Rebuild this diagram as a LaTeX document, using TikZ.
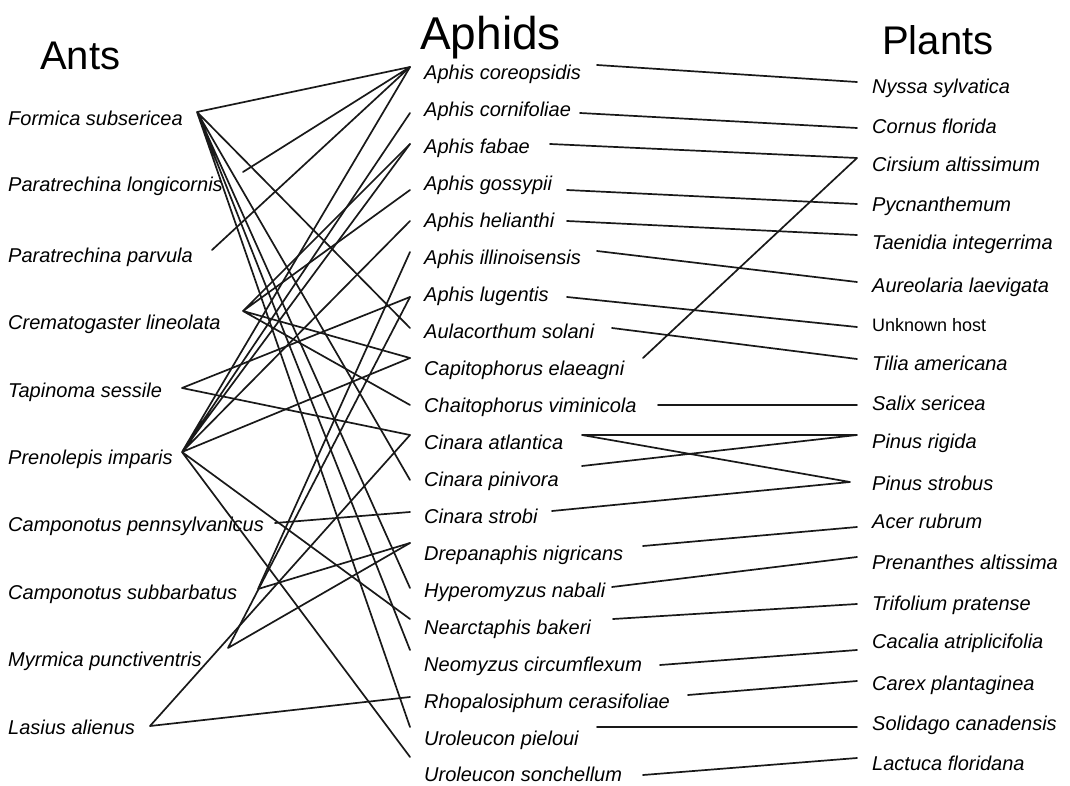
\documentclass[tikz,border=0pt]{standalone}
\usepackage{fontspec}
\setmainfont{Liberation Sans}
\begin{document}
\begin{tikzpicture}[x=1pt,y=-1pt,
  lk/.style={line width=1.7pt, black!90, line cap=round},
  sp/.style={anchor=base west, inner sep=0pt, font=\fontsize{20}{24}\selectfont\itshape},
  uk/.style={anchor=base west, inner sep=0pt, font=\fontsize{18}{21}\selectfont},
  ttl/.style={anchor=base west, inner sep=0pt, font=\fontsize{40}{48}\selectfont}]
\useasboundingbox (0,0) rectangle (1070,786);
% titles
\node[ttl] (tAnts) at (40,70) {Ants};
\node[ttl, font=\fontsize{46}{54}\selectfont] (tAph) at (420,50) {Aphids};
\node[ttl] (tPl) at (882,55) {Plants};
% ants
\node[sp] (n1) at (8,126) {Formica subsericea};
\node[sp] (n2) at (8,192) {Paratrechina longicornis};
\node[sp] (n3) at (8,262) {Paratrechina parvula};
\node[sp] (n4) at (8,329) {Crematogaster lineolata};
\node[sp] (n5) at (8,397) {Tapinoma sessile};
\node[sp] (n6) at (8,464) {Prenolepis imparis};
\node[sp] (n7) at (8,531) {Camponotus pennsylvanicus};
\node[sp] (n8) at (8,599) {Camponotus subbarbatus};
\node[sp] (n9) at (8,666) {Myrmica punctiventris};
\node[sp] (n10) at (8,734) {Lasius alienus};
% aphids
\node[sp] (a1) at (424,79.7) {Aphis coreopsidis};
\node[sp] (a2) at (424,116.7) {Aphis cornifoliae};
\node[sp] (a3) at (424,153.6) {Aphis fabae};
\node[sp] (a4) at (424,190.6) {Aphis gossypii};
\node[sp] (a5) at (424,227.5) {Aphis helianthi};
\node[sp] (a6) at (424,264.5) {Aphis illinoisensis};
\node[sp] (a7) at (424,301.5) {Aphis lugentis};
\node[sp] (a8) at (424,338.4) {Aulacorthum solani};
\node[sp] (a9) at (424,375.4) {Capitophorus elaeagni};
\node[sp] (a10) at (424,412.3) {Chaitophorus viminicola};
\node[sp] (a11) at (424,449.3) {Cinara atlantica};
\node[sp] (a12) at (424,486.3) {Cinara pinivora};
\node[sp] (a13) at (424,523.2) {Cinara strobi};
\node[sp] (a14) at (424,560.2) {Drepanaphis nigricans};
\node[sp] (a15) at (424,597.1) {Hyperomyzus nabali};
\node[sp] (a16) at (424,634.1) {Nearctaphis bakeri};
\node[sp] (a17) at (424,671.1) {Neomyzus circumflexum};
\node[sp] (a18) at (424,708.0) {Rhopalosiphum cerasifoliae};
\node[sp] (a19) at (424,745.0) {Uroleucon pieloui};
\node[sp] (a20) at (424,781.9) {Uroleucon sonchellum};
% plants
\node[sp] (p1) at (872,94) {Nyssa sylvatica};
\node[sp] (p2) at (872,134) {Cornus florida};
\node[sp] (p3) at (872,172) {Cirsium altissimum};
\node[sp] (p4) at (872,212) {Pycnanthemum};
\node[sp] (p5) at (872,250) {Taenidia integerrima};
\node[sp] (p6) at (872,292) {Aureolaria laevigata};
\node[uk] (p7) at (872,331) {Unknown host};
\node[sp] (p8) at (872,370) {Tilia americana};
\node[sp] (p9) at (872,410) {Salix sericea};
\node[sp] (p10) at (872,448) {Pinus rigida};
\node[sp] (p11) at (872,490) {Pinus strobus};
\node[sp] (p12) at (872,528) {Acer rubrum};
\node[sp] (p13) at (872,569) {Prenanthes altissima};
\node[sp] (p14) at (872,610) {Trifolium pratense};
\node[sp] (p15) at (872,648) {Cacalia atriplicifolia};
\node[sp] (p16) at (872,690) {Carex plantaginea};
\node[sp] (p17) at (872,730) {Solidago canadensis};
\node[sp] (p18) at (872,770) {Lactuca floridana};
% ant end points
\coordinate (F) at (197,112);
\coordinate (PL) at (243,172);
\coordinate (PP) at (212,250);
\coordinate (CL) at (243,311);
\coordinate (TS) at (182,388);
\coordinate (PI) at (182,452);
\coordinate (CP) at (275,523);
\coordinate (CS) at (258,589);
\coordinate (MP) at (228,648);
\coordinate (LA) at (150,726);
% aphid left end points
\coordinate (L1) at (410,67);
\coordinate (L2) at (410,113);
\coordinate (L3) at (410,144);
\coordinate (L4) at (410,190);
\coordinate (L5) at (410,221);
\coordinate (L6) at (410,252);
\coordinate (L7) at (410,297);
\coordinate (L8) at (410,328);
\coordinate (L9) at (410,358);
\coordinate (L10) at (410,405);
\coordinate (L11) at (410,435);
\coordinate (L12) at (410,480);
\coordinate (L13) at (410,512);
\coordinate (L14) at (410,543);
\coordinate (L15) at (410,588);
\coordinate (L16) at (410,619);
\coordinate (L17) at (410,650);
\coordinate (L18) at (410,697);
\coordinate (L19) at (410,727);
\coordinate (L20) at (410,757);
% aphid right end points
\coordinate (R1) at (597,65);
\coordinate (R2) at (580,113);
\coordinate (R3) at (550,144);
\coordinate (R4) at (567,190);
\coordinate (R5) at (567,221);
\coordinate (R6) at (597,251);
\coordinate (R7) at (567,297);
\coordinate (R8) at (612,328);
\coordinate (R9) at (643,358);
\coordinate (R10) at (658,405);
\coordinate (R11) at (582,435);
\coordinate (R12) at (582,466);
\coordinate (R13) at (552,511);
\coordinate (R14) at (643,546);
\coordinate (R15) at (612,587);
\coordinate (R16) at (613,619);
\coordinate (R17) at (660,665);
\coordinate (R18) at (688,695);
\coordinate (R19) at (597,727);
\coordinate (R20) at (643,775);
% plant end points
\coordinate (Q1) at (857,82);
\coordinate (Q2) at (857,128);
\coordinate (Q3) at (857,158);
\coordinate (Q4) at (857,204);
\coordinate (Q5) at (857,235);
\coordinate (Q6) at (857,282);
\coordinate (Q7) at (857,327);
\coordinate (Q8) at (857,359);
\coordinate (Q9) at (857,405);
\coordinate (Q10) at (857,435);
\coordinate (Q11) at (850,482);
\coordinate (Q12) at (857,527);
\coordinate (Q13) at (857,557);
\coordinate (Q14) at (857,604);
\coordinate (Q15) at (857,650);
\coordinate (Q16) at (857,681);
\coordinate (Q17) at (857,727);
\coordinate (Q18) at (857,758);
% aphid - plant links
\draw[lk] (R1)--(Q1) (R2)--(Q2) (R3)--(Q3) (R4)--(Q4) (R5)--(Q5) (R6)--(Q6)
  (R7)--(Q7) (R8)--(Q8) (R9)--(Q3) (R10)--(Q9) (R11)--(Q10) (R11)--(Q11)
  (R12)--(Q10) (R13)--(Q11) (R14)--(Q12) (R15)--(Q13) (R16)--(Q14)
  (R17)--(Q15) (R18)--(Q16) (R19)--(Q17) (R20)--(Q18);
% ant - aphid links
\draw[lk] (F)--(L1) (F)--(L8) (F)--(L12) (F)--(L15) (F)--(L17) (F)--(L19);
\draw[lk] (PL)--(L1) (PP)--(L1);
\draw[lk] (CL)--(L3) (CL)--(L4) (CL)--(L9) (CL)--(L10);
\draw[lk] (TS)--(L7) (TS)--(L11);
\draw[lk] (PI)--(L1) (PI)--(L2) (PI)--(L3) (PI)--(L5) (PI)--(L9) (PI)--(L16) (PI)--(L20);
\draw[lk] (CP)--(L13);
\draw[lk] (CS)--(L6) (CS)--(L14);
\draw[lk] (MP)--(L14) (MP)--(L7);
\draw[lk] (LA)--(L18) (LA)--(L11);
\end{tikzpicture}
\end{document}
